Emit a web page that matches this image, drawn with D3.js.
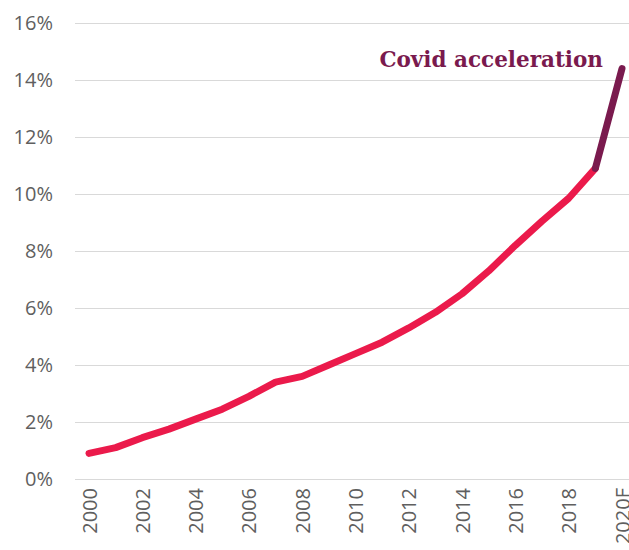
<!DOCTYPE html>
<html lang="en">
<head>
    <meta charset="UTF-8">
    <title>Covid acceleration</title>
    <script src="https://d3js.org/d3.v7.min.js"></script>
    <style>
        body { margin: 0; background: #fff; }
        .tick text { font-family: "Open Sans", sans-serif; fill: #5f5f5f; }
    </style>
</head>
<body>
    <div id="chart"></div>
    <script>
        // data
        const years = [2000, 2001, 2002, 2003, 2004, 2005, 2006, 2007, 2008, 2009, 2010,
                       2011, 2012, 2013, 2014, 2015, 2016, 2017, 2018, 2019, 2020];
        const share = [0.9, 1.1, 1.45, 1.75, 2.1, 2.45, 2.9, 3.4, 3.6, 4.0, 4.4,
                       4.8, 5.3, 5.85, 6.5, 7.3, 8.2, 9.05, 9.85, 10.9, 14.4];
        const xTicks = [2000, 2002, 2004, 2006, 2008, 2010, 2012, 2014, 2016, 2018, 2020];
        const xTickLabels = ["2000", "2002", "2004", "2006", "2008", "2010", "2012", "2014", "2016", "2018", "2020F"];
        const yTicks = [0, 2, 4, 6, 8, 10, 12, 14, 16];
        const covidFrom = 2019;
        const label = "Covid acceleration";

        const width = 629, height = 550;
        const svg = d3.select("#chart").append("svg")
            .attr("width", width)
            .attr("height", height);

        const x = d3.scaleLinear().domain([2000, 2020]).range([89, 622]);
        const y = d3.scaleLinear().domain([0, 16]).range([479, 23]);

        // gridlines + y labels
        const yAxis = svg.append("g")
            .attr("transform", "translate(75,0)")
            .call(d3.axisLeft(y).tickValues(yTicks).tickFormat(d => d + "%")
                .tickSize(-(width - 75)).tickPadding(22));
        yAxis.select(".domain").remove();
        yAxis.selectAll(".tick line").attr("stroke", "#d9d9d9").attr("stroke-width", 1.2);
        yAxis.selectAll(".tick text").attr("font-size", 20);

        // x labels, rotated
        const xAxis = svg.append("g")
            .attr("transform", "translate(0,479)")
            .call(d3.axisBottom(x).tickValues(xTicks)
                .tickFormat((d, i) => xTickLabels[i]).tickSize(0));
        xAxis.select(".domain").remove();
        xAxis.selectAll(".tick text")
            .attr("font-size", 20)
            .attr("transform", "rotate(-90)")
            .attr("text-anchor", "end")
            .attr("dy", "0.35em")
            .attr("x", -9)
            .attr("y", 0);

        const pts = years.map((yr, i) => ({ yr, v: share[i] }));
        const line = d3.line().x(d => x(d.yr)).y(d => y(d.v));

        svg.append("path")
            .datum(pts.filter(d => d.yr <= covidFrom))
            .attr("d", line)
            .attr("fill", "none")
            .attr("stroke", "#EB1A4B")
            .attr("stroke-width", 7)
            .attr("stroke-linecap", "round")
            .attr("stroke-linejoin", "round");

        svg.append("path")
            .datum(pts.filter(d => d.yr >= covidFrom))
            .attr("d", line)
            .attr("fill", "none")
            .attr("stroke", "#7A1A4E")
            .attr("stroke-width", 7)
            .attr("stroke-linecap", "round")
            .attr("stroke-linejoin", "round");

        svg.append("text")
            .attr("x", 603)
            .attr("y", 67)
            .attr("text-anchor", "end")
            .attr("font-family", "DejaVu Serif, serif")
            .attr("font-weight", "bold")
            .attr("font-size", 21.5)
            .attr("fill", "#7A1A4E")
            .text(label);
    </script>
</body>
</html>
